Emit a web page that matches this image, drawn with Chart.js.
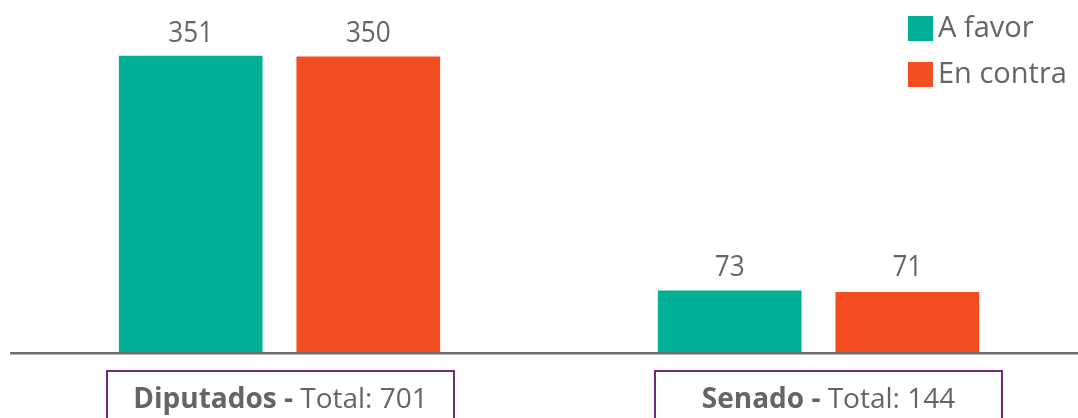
<!DOCTYPE html>
<html>
<head>
<meta charset="utf-8">
<script src="https://cdn.jsdelivr.net/npm/chart.js@4.4.1/dist/chart.umd.min.js"></script>
<style>
  html, body { margin: 0; padding: 0; background: #fff; overflow: hidden; }
  /* 少し右にはみ出させて、カテゴリ中心を元画像に合わせる */
  .wrap { position: relative; width: 1088px; height: 418px; }
</style>
</head>
<body>
<div class="wrap"><canvas id="votesChart"></canvas></div>
<script>
// データ
const chambers = ["Diputados", "Senado"];
const seriesNames = ["A favor", "En contra"];
const aFavor = [351, 73];
const enContra = [350, 71];

const colors = ["#00B096", "#F24E22"];
const textColor = "#646469";
const boxColor = "#6E2C7C";
const fontFamily = "'Open Sans', 'Noto Sans', sans-serif";

// 軸線・値ラベル・凡例・カテゴリ枠を描くプラグイン
const decorPlugin = {
  id: "decor",
  afterDatasetsDraw(chart) {
    const ctx = chart.ctx;
    const area = chart.chartArea;
    const xScale = chart.scales.x;

    ctx.save();

    // ベースライン
    ctx.strokeStyle = "#6D6D6D";
    ctx.lineWidth = 2.5;
    ctx.beginPath();
    ctx.moveTo(area.left, area.bottom + 1.2);
    ctx.lineTo(area.right, area.bottom + 1.2);
    ctx.stroke();

    // 値ラベル（グループ内の一番高い棒の上にそろえる）
    ctx.fillStyle = textColor;
    ctx.font = `29px ${fontFamily}`;
    ctx.textAlign = "center";
    ctx.textBaseline = "alphabetic";
    chart.data.labels.forEach((label, i) => {
      let top = Infinity;
      chart.data.datasets.forEach((ds, d) => {
        const bar = chart.getDatasetMeta(d).data[i];
        top = Math.min(top, bar.y);
      });
      chart.data.datasets.forEach((ds, d) => {
        const bar = chart.getDatasetMeta(d).data[i];
        ctx.save();
        ctx.translate(bar.x, top - 14);
        ctx.scale(0.9, 1);
        ctx.fillText(String(ds.data[i]), 0, 0);
        ctx.restore();
      });
    });

    // 凡例
    ctx.textAlign = "left";
    ctx.textBaseline = "middle";
    ctx.font = `29px ${fontFamily}`;
    chart.data.datasets.forEach((ds, d) => {
      const y = 16 + d * 46;
      ctx.fillStyle = ds.backgroundColor;
      ctx.fillRect(908, y, 25, 25);
      ctx.fillStyle = textColor;
      ctx.fillText(ds.label, 938, y + 13);
    });

    // カテゴリの枠付きラベル
    chart.data.labels.forEach((label, i) => {
      const cx = xScale.getPixelForTick(i) + (i === 0 ? 1 : 10);
      const total = chart.data.datasets.reduce((s, ds) => s + ds.data[i], 0);
      const boxW = 347;
      const boxTop = 371;
      ctx.strokeStyle = boxColor;
      ctx.lineWidth = 2;
      ctx.strokeRect(cx - boxW / 2, boxTop, boxW, 80);

      const boldText = label + " - ";
      const normalText = "Total: " + total;
      ctx.font = `bold 28px ${fontFamily}`;
      const wBold = ctx.measureText(boldText).width;
      ctx.font = `28px ${fontFamily}`;
      const wNormal = ctx.measureText(normalText).width;
      let x = cx - (wBold + wNormal) / 2;
      const baseY = 408;
      ctx.textBaseline = "alphabetic";
      ctx.fillStyle = textColor;
      ctx.font = `bold 28px ${fontFamily}`;
      ctx.fillText(boldText, x, baseY);
      ctx.font = `28px ${fontFamily}`;
      ctx.fillText(normalText, x + wBold, baseY);
    });

    ctx.restore();
  },
};

const ctx = document.getElementById("votesChart");
new Chart(ctx, {
  type: "bar",
  data: {
    labels: chambers,
    datasets: [
      {
        label: seriesNames[0],
        data: aFavor,
        backgroundColor: colors[0],
      },
      {
        label: seriesNames[1],
        data: enContra,
        backgroundColor: colors[1],
      },
    ],
  },
  options: {
    responsive: true,
    maintainAspectRatio: false,
    animation: false,
    categoryPercentage: 0.659,
    barPercentage: 0.809,
    layout: {
      padding: { left: 10, right: 0, top: 0, bottom: 66 },
    },
    scales: {
      x: { display: false },
      y: { display: false, min: 0, max: 417 },
    },
    plugins: {
      legend: { display: false },
      tooltip: { enabled: false },
    },
  },
  plugins: [decorPlugin],
});
</script>
</body>
</html>
